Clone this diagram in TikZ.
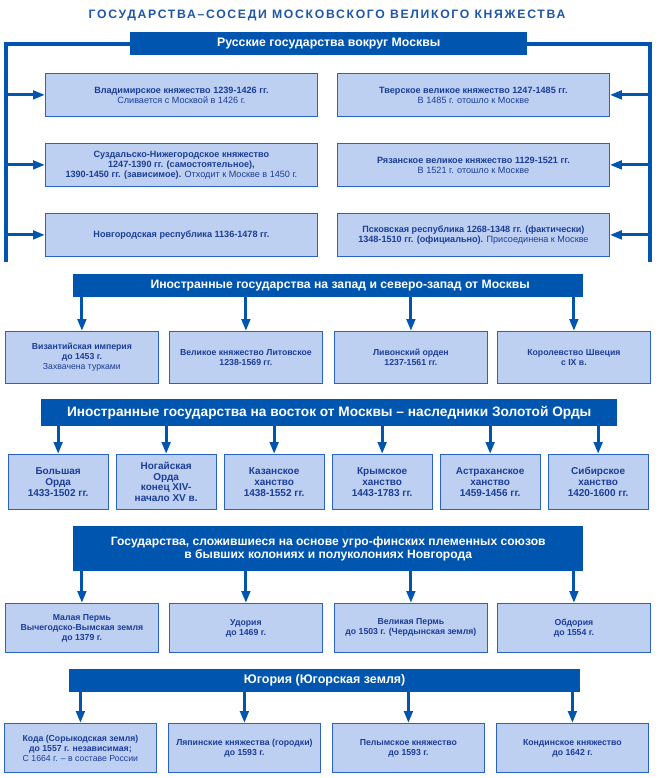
\documentclass[tikz,border=0pt]{standalone}
\usepackage{fontspec}
\setmainfont{Liberation Sans}
\usetikzlibrary{arrows.meta}
\definecolor{hblue}{HTML}{0055AE}
\definecolor{bfill}{HTML}{BDD0F2}
\definecolor{bline}{HTML}{2A62C4}
\definecolor{btext}{HTML}{1C3D96}
\definecolor{ttext}{HTML}{1F57A8}
\newcommand\bx[7][]{\node[box,minimum width=#5pt,minimum height=#6pt,#1] (#2) at (#3,#4) {#7};}
\newcommand\hd[7]{\node[hdr,minimum width=#4pt,minimum height=#5pt,font=#6] (#1) at (#2,#3) {#7};}
\begin{document}
\begin{tikzpicture}[x=1pt,y=-1pt,
 hdr/.style={fill=hblue, draw=none, text=white, align=center, inner sep=0pt, anchor=north west},
 box/.style={fill=bfill, draw=bline, line width=0.8pt, text=btext, font=\bfseries\fontsize{8.7}{10}\selectfont, align=center, inner sep=0pt, anchor=north west},
 toprow/.style={font=\bfseries\fontsize{9.1}{10}\selectfont},
 bigbox/.style={font=\bfseries\fontsize{10}{10.8}\selectfont},
 arr/.style={draw=hblue, line width=3pt, -{Triangle[width=8.5pt,length=12pt]}},
 frameline/.style={draw=hblue, line width=4pt}
]
\useasboundingbox (0,0) rectangle (658,778);
\fill[white] (0,0) rectangle (658,778);
% title
\node[text=ttext, font={\bfseries\fontsize{12.2}{13}\selectfont\addfontfeature{LetterSpace=14}}] (title) at (327,15.5) {ГОСУДАРСТВА–СОСЕДИ МОСКОВСКОГО ВЕЛИКОГО КНЯЖЕСТВА};
% header 1 and frame
\coordinate (fltop) at (5.5,44.5);
\coordinate (flbot) at (5.5,262);
\coordinate (frtop) at (650,44.5);
\coordinate (frbot) at (650,262);
\hd{h1}{130}{32}{397}{23}{\bfseries\fontsize{12.3}{14}\selectfont}{Русские государства вокруг Москвы}
\draw[frameline] (h1.west |- fltop) -- (fltop) -- (flbot);
\draw[frameline] (h1.east |- frtop) -- (frtop) -- (frbot);
\bx[toprow]{l1}{45}{73}{272}{43}{Владимирское княжество 1239-1426 гг.\\{\mdseries Сливается с Москвой в 1426 г.}}
\bx[toprow]{l2}{45}{143}{272}{43}{Суздальско-Нижегородское княжество\\1247-1390 гг. (самостоятельное),\\1390-1450 гг. (зависимое). {\mdseries Отходит к Москве в 1450 г.}}
\bx[toprow]{l3}{45}{213}{272}{43}{Новгородская республика 1136-1478 гг.}
\bx[toprow]{r1}{337}{73}{272}{43}{Тверское великое княжество 1247-1485 гг.\\{\mdseries В 1485 г. отошло к Москве}}
\bx[toprow]{r2}{337}{143}{272}{43}{Рязанское великое княжество 1129-1521 гг.\\{\mdseries В 1521 г. отошло к Москве}}
\bx[toprow]{r3}{337}{213}{272}{43}{Псковская республика 1268-1348 гг. (фактически)\\1348-1510 гг. (официально). {\mdseries Присоединена к Москве}}
\foreach \n in {l1,l2,l3} \draw[arr] (fltop |- \n.west) -- (\n.west);
\foreach \n in {r1,r2,r3} \draw[arr] (frtop |- \n.east) -- (\n.east);
% header 2
\hd{h2}{73}{274}{510}{23}{\bfseries\fontsize{12.2}{14}\selectfont}{\hspace*{24pt}Иностранные государства на запад и северо-запад от Москвы}
\bx{a1}{5}{331}{153}{52}{Византийская империя\\до 1453 г.\\{\mdseries Захвачена турками}}
\bx{a2}{169}{331}{153}{52}{Великое княжество Литовское\\1238-1569 гг.}
\bx{a3}{334}{331}{153}{52}{Ливонский орден\\1237-1561 гг.}
\bx{a4}{497}{331}{153}{52}{Королевство Швеция\\с IX в.}
\foreach \n in {a1,a2,a3,a4} \draw[arr] (\n.north |- h2.south) -- (\n.north);
% header 3
\hd{h3}{41}{399}{576}{27}{\bfseries\fontsize{13.7}{15}\selectfont}{Иностранные государства на восток от Москвы – наследники Золотой Орды}
\bx[bigbox]{b1}{7.5}{454}{100.5}{55}{Большая\\Орда\\1433-1502 гг.}
\bx[bigbox]{b2}{115.5}{454}{100.5}{55}{Ногайская\\Орда\\конец XIV-\\начало XV в.}
\bx[bigbox]{b3}{223.5}{454}{100.5}{55}{Казанское\\ханство\\1438-1552 гг.}
\bx[bigbox]{b4}{331.5}{454}{100.5}{55}{Крымское\\ханство\\1443-1783 гг.}
\bx[bigbox]{b5}{439.5}{454}{100.5}{55}{Астраханское\\ханство\\1459-1456 гг.}
\bx[bigbox]{b6}{547.5}{454}{100.5}{55}{Сибирское\\ханство\\1420-1600 гг.}
\foreach \n in {b1,b2,b3,b4,b5,b6} \draw[arr] (\n.north |- h3.south) -- (\n.north);
% header 4
\hd{h4}{73}{526}{510}{45}{\bfseries\fontsize{12.1}{13.3}\selectfont}{Государства, сложившиеся на основе угро-финских племенных союзов\\в бывших колониях и полуколониях Новгорода}
\bx{c1}{5}{603}{153}{49}{Малая Пермь\\Вычегодско-Вымская земля\\до 1379 г.}
\bx{c2}{169}{603}{153}{49}{Удория\\до 1469 г.}
\bx{c3}{334}{603}{153}{49}{Великая Пермь\\до 1503 г. (Чердынская земля)}
\bx{c4}{497}{603}{153}{49}{Обдория\\до 1554 г.}
\foreach \n in {c1,c2,c3,c4} \draw[arr] (\n.north |- h4.south) -- (\n.north);
% header 5
\hd{h5}{69}{669}{511}{23}{\bfseries\fontsize{12.5}{14}\selectfont}{Югория (Югорская земля)}
\bx{d1}{4}{723}{152}{49}{Кода (Сорыкодская земля)\\до 1557 г. независимая;\\{\mdseries С 1664 г. – в составе России}}
\bx{d2}{168}{723}{152}{49}{Ляпинские княжества (городки)\\до 1593 г.}
\bx{d3}{332}{723}{152}{49}{Пелымское княжество\\до 1593 г.}
\bx{d4}{496}{723}{152}{49}{Кондинское княжество\\до 1642 г.}
\foreach \n in {d1,d2,d3,d4} \draw[arr] (\n.north |- h5.south) -- (\n.north);
\end{tikzpicture}
\end{document}
